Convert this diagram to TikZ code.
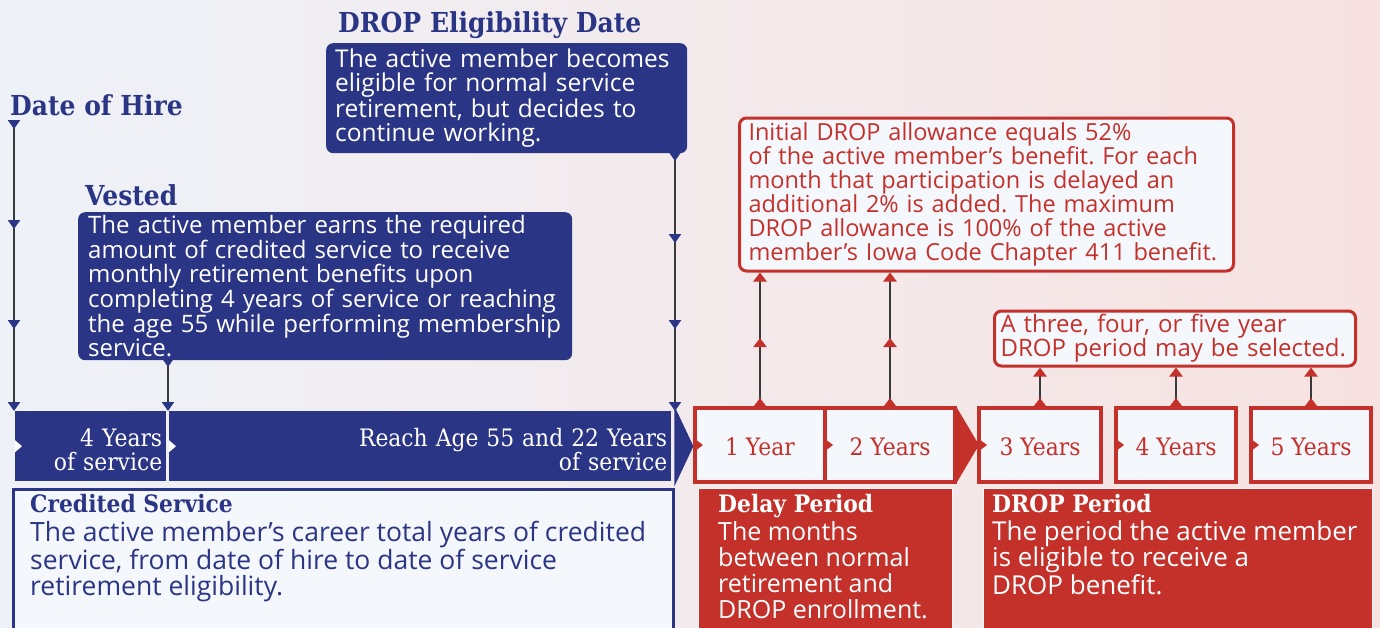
\documentclass[tikz,border=0pt]{standalone}
\usepackage{fontspec}
\setmainfont{Open Sans}
\newfontfamily\slab{DejaVu Serif}[FakeStretch=0.91]
\usetikzlibrary{arrows.meta,decorations.markings,positioning}
\frenchspacing

\definecolor{dropblue}{HTML}{2B3585}
\definecolor{dropred}{HTML}{C4312B}
\definecolor{ipale}{HTML}{F4F7FC}
\definecolor{bgleft}{HTML}{EEF2F8}
\definecolor{bgright}{HTML}{F7E2E1}
\definecolor{stemgray}{HTML}{3A3A3A}

\newcommand\bodytxt{\fontsize{24}{24}\selectfont}
\newcommand\paneltxt{\fontsize{26.5}{26}\selectfont}
\newcommand\slabtxt{\slab\fontsize{24}{24}\selectfont}
\newcommand\slabhd{\slab\bfseries\fontsize{24}{26}\selectfont}
\newcommand\slabbig{\slab\bfseries\fontsize{27.5}{30}\selectfont}

\tikzset{
  tipblue/.tip={Triangle[width=12pt,length=9pt,color=dropblue]},
  tipred/.tip={Triangle[width=13pt,length=9pt,color=dropred]},
  bluetick/.style={postaction={decorate,decoration={markings,
    mark=at position #1 with {\arrow{tipblue}}}}},
  redtick/.style={postaction={decorate,decoration={markings,
    mark=at position #1 with {\arrow{tipred}}}}},
}

\begin{document}
\begin{tikzpicture}[x=1pt,y=-1pt,
  hdr/.style={anchor=west, inner sep=0pt, text=dropblue, font=\slabbig},
  stem/.style={draw=stemgray, line width=2.5pt},
  callblue/.style={fill=dropblue, rounded corners=7pt, text=white, font=\bodytxt,
    align=left, inner xsep=10pt, inner ysep=2pt},
  callred/.style={draw=dropred, line width=3pt, fill=ipale, rounded corners=7pt,
    text=dropred, font=\bodytxt, align=left, inner xsep=10pt, inner ysep=2pt},
  barblue/.style={fill=dropblue, text=white, font=\slabtxt, minimum height=70pt,
    align=right, inner xsep=4pt, inner ysep=0pt, anchor=north west},
  yrbox/.style={draw=dropred, line width=4pt, fill=ipale, text=dropred,
    font=\slabtxt, minimum height=74pt, inner sep=0pt},
  redpanel/.style={fill=dropred, draw=ipale, line width=1pt, anchor=north west,
    minimum height=160pt},
  paneltx/.style={anchor=north west, inner sep=0pt, align=left},
]
% background
\fill[left color=bgleft, right color=bgright] (0,0) rectangle (1380,627);
\useasboundingbox (0,0) rectangle (1380,627);

% headings
\node[hdr] (hirehd) at (10,105) {Date of Hire};
\node[hdr] (vesthd) at (85,195) {Vested};
\node[hdr] (elighd) at (338,25) {DROP Eligibility Date};

% blue callouts
\node[callblue, anchor=north west, text width=474pt, minimum height=148pt] (vested) at (78,212)
  {The active member earns the required\\amount of credited service to receive\\monthly retirement benefits upon\\completing 4 years of service or reaching\\the age 55 while performing membership\\service.};
\node[callblue, anchor=north west, text width=343pt, minimum height=110pt, inner xsep=9pt,
  font=\fontsize{24.5}{24}\selectfont] (elig) at (326,43)
  {The active member becomes\\eligible for normal service\\retirement, but decides to\\continue working.};

% credited service bar
\node[barblue, text width=143pt] (bar1) at (15,411) {\rule{0pt}{25pt}4 Years\\of service};
\node[barblue, text width=494pt] (bar2) at (169,411) {\rule{0pt}{25pt}Reach Age 55 and 22 Years\\of service};
\fill[dropblue] ([shift={(3,-5)}]bar2.north east) -- ([xshift=22pt]bar2.east)
  -- ([shift={(3,5)}]bar2.south east) -- cycle;
\foreach \b in {bar1,bar2}
  \fill[white] (\b.west) ++(0,-6) -- ++(7,6) -- ++(-7,6) -- cycle;

% timeline stems
\coordinate (hiretop) at (14,120);
\draw[stem, bluetick=9pt, bluetick=109pt, bluetick=209pt, -{tipblue}] (hiretop) -- (hiretop |- bar1.north);
\coordinate (vestfoot) at (168,360);
\draw[stem, bluetick=7pt, -{tipblue}] (vestfoot) -- (vestfoot |- bar1.north);
\coordinate (eligfoot) at (675,153);
\draw[stem, bluetick=8pt, bluetick=90pt, bluetick=176pt, -{tipblue}] (eligfoot) -- (eligfoot |- bar2.north);

% credited service panel
\node[anchor=north west, draw=dropblue, line width=3pt, fill=ipale, minimum width=660pt,
  minimum height=160pt] (cred) at (11.5,487.5) {};
\node[paneltx, text=dropblue, font=\slabhd] (credhd) at (30,494) {Credited Service};
\node[paneltx, text=dropblue, font=\paneltxt] (credtx) at (30,521)
  {The active member’s career total years of credited\\service, from date of hire to date of service\\retirement eligibility.};

% delay and drop years
\node[yrbox, minimum width=130pt] (yr1) at (760,445) {\rule{0pt}{22pt}1 Year};
\node[yrbox, minimum width=130pt] (yr2) at (890,445) {\rule{0pt}{22pt}2 Years};
\fill[dropred] ([yshift=-2pt]yr2.north east) -- ([xshift=22pt]yr2.east)
  -- ([yshift=2pt]yr2.south east) -- cycle;
\node[yrbox, minimum width=122pt] (yr3) at (1040,445) {\rule{0pt}{22pt}3 Years};
\node[yrbox, minimum width=120pt] (yr4) at (1176,445) {\rule{0pt}{22pt}4 Years};
\node[yrbox, minimum width=120pt] (yr5) at (1311,445) {\rule{0pt}{22pt}5 Years};
\foreach \b in {yr1,yr2,yr3,yr4,yr5}
  \fill[dropred] ([xshift=2pt]\b.west) ++(0,-6) -- ++(8,6) -- ++(-8,6) -- cycle;

% red callouts
\node[callred, text width=476pt, minimum height=153pt, inner xsep=9pt,
  font=\fontsize{23.5}{24}\selectfont] (init) at (986.5,194.5)
  {Initial DROP allowance equals 52\%\\of the active member’s benefit. For each\\month that participation is delayed an\\additional 2\% is added. The maximum\\DROP allowance is 100\% of the active\\member’s Iowa Code Chapter 411 benefit.};
\node[callred, text width=349pt, minimum height=55pt, inner xsep=6pt] (choose) at (1175,338.5)
  {A three, four, or five year\\DROP period may be selected.};

\foreach \b in {yr1,yr2}
  \draw[stem, redtick=8pt, redtick=68pt, -{tipred}] (\b.north) -- (\b.north |- init.south);
\foreach \b in {yr3,yr4,yr5}
  \draw[stem, redtick=8pt, -{tipred}] (\b.north) -- (\b.north |- choose.south);

% period panels
\node[redpanel, minimum width=254pt] (delay) at (698,488) {};
\node[paneltx, text=white, font=\slabhd] (delayhd) at (718,494) {Delay Period};
\node[paneltx, text=white, font=\fontsize{25}{26}\selectfont] (delaytx) at (718,521)
  {The months\\between normal\\retirement and\\DROP enrollment.};
\node[redpanel, minimum width=389pt] (dropper) at (983,488) {};
\node[paneltx, text=white, font=\slabhd] (drophd) at (992,494) {DROP Period};
\node[paneltx, text=white, font=\fontsize{26}{26}\selectfont] (droptx) at (992,521)
  {The period the active member\\is eligible to receive a\\DROP benefit.};
\end{tikzpicture}
\end{document}
